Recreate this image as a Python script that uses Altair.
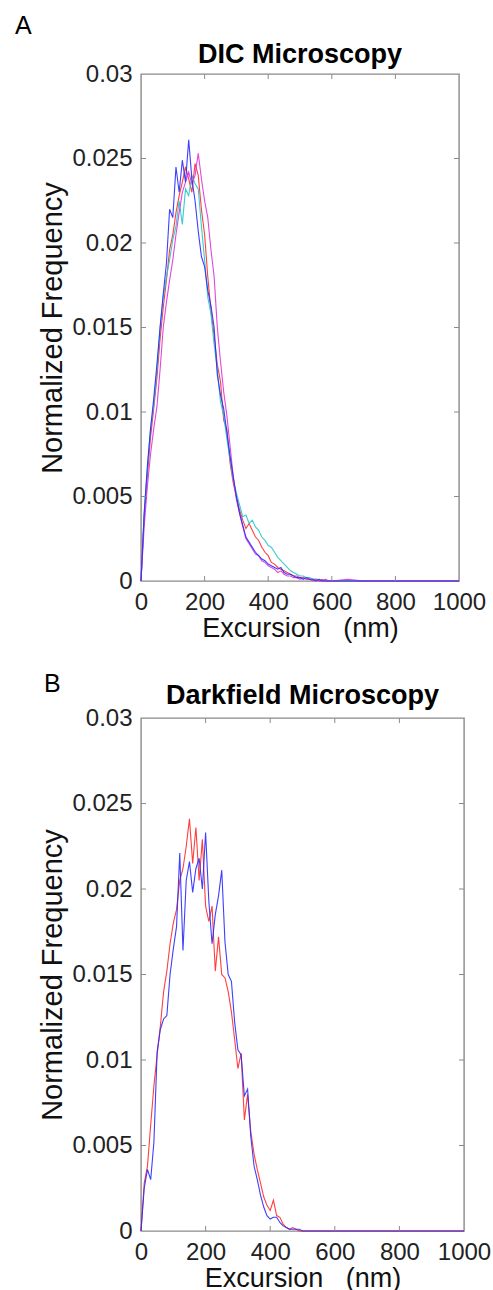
import altair as alt
import pandas as pd

# Excursion bins (nm)
XS = list(range(0, 610, 10)) + [650, 700, 750, 800, 850, 900, 950, 1000]

# Panel A: DIC microscopy (normalized frequency per bin)
dic_red = [0, .0038, .0062, .0085, .0102, .0120, .0143, .0162, .0178, .0196,
           .0205, .0218, .0228, .0236, .0245, .0238, .0230, .0247, .0240, .0220,
           .0205, .0180, .0160, .0145, .0128, .0118, .0095, .0090, .0070, .0058,
           .0050, .0042, .0036, .0031, .0034, .0030, .0026, .0024, .0020, .0017,
           .0015, .0011, .0010, .0008, .0007, .0006, .0005, .0004, .0003, .0003,
           .0002, .0002, .0001, .0001, .0001, .0001, 0, .0001, 0, 0, 0,
           0, 0, 0, 0, 0, 0, 0, 0]
dic_cyan = [0, .0040, .0066, .0090, .0104, .0125, .0150, .0168, .0180, .0190,
            .0202, .0210, .0225, .0211, .0232, .0228, .0240, .0235, .0232, .0210,
            .0190, .0168, .0158, .0140, .0125, .0106, .0098, .0084, .0072, .0060,
            .0052, .0045, .0038, .0039, .0034, .0036, .0032, .0030, .0026, .0024,
            .0021, .0020, .0017, .0014, .0012, .0010, .0008, .0006, .0005, .0004,
            .0003, .0003, .0002, .0002, .0001, .0001, .0001, 0, .0001, 0, 0,
            0, 0, 0, 0, 0, 0, 0, 0]
dic_magenta = [0, .0032, .0056, .0075, .0090, .0103, .0125, .0150, .0165, .0178,
               .0190, .0205, .0218, .0230, .0236, .0242, .0235, .0240, .0253, .0238,
               .0225, .0215, .0196, .0180, .0150, .0130, .0112, .0098, .0080, .0062,
               .0048, .0040, .0032, .0025, .0022, .0019, .0016, .0015, .0012, .0011,
               .0009, .0008, .0007, .0005, .0006, .0004, .0003, .0003, .0002, .0002,
               .0001, .0002, .0001, .0001, 0, .0001, 0, 0, .0001, 0, 0,
               .0001, 0, 0, 0, 0, 0, 0, 0]
dic_blue = [0, .0040, .0068, .0090, .0108, .0128, .0150, .0170, .0188, .0220,
            .0215, .0245, .0230, .0249, .0236, .0261, .0238, .0225, .0207, .0192,
            .0186, .0172, .0163, .0150, .0122, .0110, .0102, .0088, .0074, .0062,
            .0050, .0040, .0033, .0026, .0023, .0020, .0017, .0015, .0013, .0012,
            .0010, .0009, .0008, .0007, .0008, .0005, .0004, .0004, .0003, .0002,
            .0002, .0001, .0002, .0001, .0001, 0, .0001, 0, 0, 0, 0,
            0, 0, 0, 0, 0, 0, 0, 0]

# Panel B: Darkfield microscopy
dark_red = [0, .0028, .0038, .0062, .0085, .0103, .0120, .0140, .0152, .0168,
            .0180, .0188, .0205, .0212, .0225, .0241, .0215, .0236, .0205, .0229,
            .0190, .0181, .0190, .0152, .0172, .0150, .0148, .0140, .0128, .0112,
            .0095, .0104, .0065, .0080, .0058, .0045, .0036, .0028, .0020, .0015,
            .0012, .0018, .0009, .0008, .0004, .0002, .0001, .0002, .0001, 0,
            0, 0, 0, 0, 0, 0, 0, 0, 0, 0, 0,
            0, 0, 0, 0, 0, 0, 0, 0]
dark_blue = [0, .0025, .0036, .0030, .0052, .0105, .0118, .0124, .0126, .0150,
             .0165, .0178, .0221, .0164, .0205, .0216, .0198, .0212, .0218, .0200,
             .0233, .0193, .0168, .0185, .0196, .0211, .0169, .0150, .0146, .0122,
             .0106, .0103, .0079, .0083, .0055, .0038, .0030, .0021, .0014, .0009,
             .0007, .0008, .0008, .0005, .0003, .0002, .0001, .0001, .0001, .0001,
             0, 0, 0, 0, 0, 0, 0, 0, 0, 0, 0,
             0, 0, 0, 0, 0, 0, 0, 0]

X_TICKS = [200, 400, 600, 800]
Y_TICKS = [0.005, 0.01, 0.015, 0.02, 0.025]
X_LABELS = [0, 200, 400, 600, 800, 1000]
Y_LABELS = [0, 0.005, 0.01, 0.015, 0.02, 0.025, 0.03]

FONT = "Liberation Sans"
GRAY = "#8a8a8a"


def long_df(series):
    rows = []
    for name, vals in series:
        for x, y in zip(XS, vals):
            rows.append({"x": x, "y": y, "series": name})
    return pd.DataFrame(rows)


XSCALE = alt.Scale(domain=[0, 1000], nice=False, zero=False)
YSCALE = alt.Scale(domain=[0, 0.03], nice=False, zero=False)
AX_COMMON = dict(format="~r", ticks=False, tickSize=0, domain=False, grid=False,
                 labelFlush=False, labelOverlap=False, labelPadding=9,
                 labelFont=FONT, labelFontSize=24, labelColor="#222222",
                 titleFont=FONT, titleFontWeight="normal", titleColor="#111111")
XAXIS = alt.Axis(values=X_LABELS, titlePadding=1, titleFontSize=27, **AX_COMMON)
YAXIS = alt.Axis(values=Y_LABELS, titlePadding=4, titleFontSize=29, **AX_COMMON)
XTITLE = "Excursion\u00a0\u00a0\u00a0(nm)"
YTITLE = "Normalized Frequency"


def xenc():
    return alt.X("x:Q", scale=XSCALE, axis=XAXIS, title=XTITLE)


def yenc():
    return alt.Y("y:Q", scale=YSCALE, axis=YAXIS, title=YTITLE)


def panel(series, colors, title, letter, W, H, lx, ly, ty):
    df = long_df(series)
    names = [s[0] for s in series]
    lines = alt.Chart(df).mark_line(strokeWidth=1.1, opacity=0.9).encode(
        x=xenc(), y=yenc(),
        color=alt.Color("series:N", scale=alt.Scale(domain=names, range=colors),
                        legend=None),
    )
    xt = pd.DataFrame({"x": X_TICKS})
    yt = pd.DataFrame({"y": Y_TICKS})
    tb = alt.Chart(xt).mark_rule(color=GRAY, strokeWidth=1).encode(
        x=xenc(), y=alt.value(H), y2=alt.value(H - 5))
    tt = alt.Chart(xt).mark_rule(color=GRAY, strokeWidth=1).encode(
        x=xenc(), y=alt.value(0), y2=alt.value(5))
    tl = alt.Chart(yt).mark_rule(color=GRAY, strokeWidth=1).encode(
        y=yenc(), x=alt.value(0), x2=alt.value(5))
    tr = alt.Chart(yt).mark_rule(color=GRAY, strokeWidth=1).encode(
        y=yenc(), x=alt.value(W), x2=alt.value(W - 5))
    lab = alt.Chart(pd.DataFrame({"t": [letter]})).mark_text(
        align="left", baseline="top", fontSize=25, font=FONT, color="black"
    ).encode(text="t:N", x=alt.value(lx), y=alt.value(ly))
    ttl = alt.Chart(pd.DataFrame({"t": [title]})).mark_text(
        align="center", baseline="alphabetic", fontSize=27, fontWeight="bold",
        font=FONT, color="black"
    ).encode(text="t:N", x=alt.value(W / 2), y=alt.value(ty))
    return alt.layer(lines, tb, tt, tl, tr, lab, ttl).properties(width=W, height=H)


pa = panel([("r", dic_red), ("c", dic_cyan), ("m", dic_magenta), ("b", dic_blue)],
           ["#ff2a2a", "#22c8c8", "#dd33dd", "#2a2aff"],
           "DIC Microscopy", "A", 318, 507, -126, -60, -11)
pb = panel([("r", dark_red), ("b", dark_blue)],
           ["#ff2a2a", "#2a2aff"],
           "Darkfield Microscopy", "B", 323, 513, -97, -46, -14)

chart = alt.vconcat(pa, pb, spacing=137, bounds="flush").properties(
    padding={"left": 14, "top": 13, "right": 0, "bottom": 0},
    background="white",
).configure_view(stroke=GRAY, strokeWidth=1.4)

chart.save("out.html", embed_options={"renderer": "svg", "actions": False})
